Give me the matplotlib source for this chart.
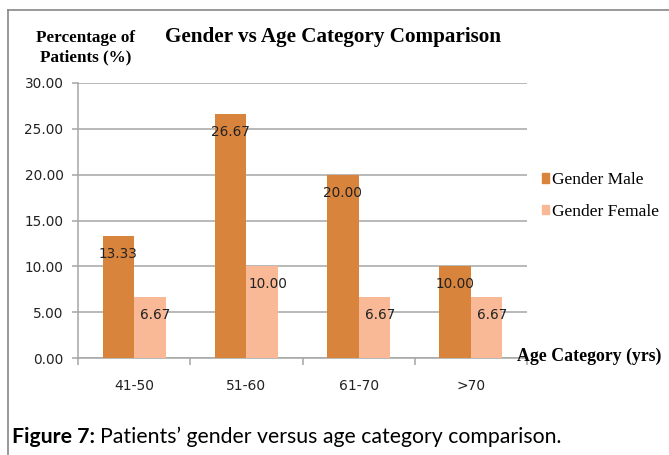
import matplotlib.pyplot as plt
import numpy as np
from matplotlib.lines import Line2D

categories = ['41-50', '51-60', '61-70', '>70']
male_pct = [13.33, 26.67, 20.00, 10.00]
female_pct = [6.67, 10.00, 6.67, 6.67]
y_ticks = [0, 5, 10, 15, 20, 25, 30]

male_color = '#D9843C'
female_color = '#F9B996'
grid_color = '#A6A6A6'
serif = 'Liberation Serif'
sans = 'DejaVu Sans'
cap_font = 'Lato'

fig = plt.figure(figsize=(6.69, 4.55), dpi=100)
ax = fig.add_axes([78 / 669, 97 / 455, 449 / 669, 275 / 455])

x = np.arange(len(categories))
bw = 0.28
bars_m = ax.bar(x - bw / 2, male_pct, bw, color=male_color, label='Gender Male', zorder=3)
bars_f = ax.bar(x + bw / 2, female_pct, bw, color=female_color, label='Gender Female', zorder=3)

# value labels a bit below the top of each bar
for bars, dx in ((bars_m, 0.0), (bars_f, 0.05)):
    for b in bars:
        h = b.get_height()
        ax.annotate(f'{h:.2f}', (b.get_x() + b.get_width() / 2 + dx, h),
                    xytext=(0, -18), textcoords='offset pixels',
                    ha='center', va='center', fontsize=9.8, family=sans, color='#222222', zorder=4)

ax.set_xlim(-0.5, len(categories) - 0.5)
ax.set_ylim(0, 30)
ax.set_yticks(y_ticks)
ax.set_yticklabels([f'{v:.2f}' for v in y_ticks], family=sans, fontsize=9.8, color='#222222')
ax.yaxis.grid(True, color=grid_color, linewidth=1.1, zorder=0)
ax.set_axisbelow(True)

ax.set_xticks(x)
ax.set_xticklabels(categories, family=sans, fontsize=10, color='#222222')
ax.tick_params(axis='x', length=0, pad=15)
ax.set_xticks(np.arange(len(categories) + 1) - 0.5, minor=True)
ax.tick_params(axis='x', which='minor', length=5, color=grid_color, width=1.1)
ax.tick_params(axis='y', length=4.5, color=grid_color, width=1.1, pad=6)

for s in ['top', 'right']:
    ax.spines[s].set_visible(False)
for s in ['left', 'bottom']:
    ax.spines[s].set_color(grid_color)
    ax.spines[s].set_linewidth(1.1)

fig.text(165 / 669, 1 - 37 / 455, 'Gender vs Age Category Comparison', family=serif,
         fontweight='bold', fontsize=15.2, ha='left', va='center')
fig.text(86 / 669, 1 - 48 / 455, 'Percentage of\nPatients (%)', family=serif,
         fontweight='bold', fontsize=12.3, ha='center', va='center', linespacing=1.3)
fig.text(517 / 669, 1 - 356 / 455, 'Age Category (yrs)', family=serif,
         fontweight='bold', fontsize=12.8, ha='left', va='center')

handles = [plt.Rectangle((0, 0), 1, 1, color=male_color),
           plt.Rectangle((0, 0), 1, 1, color=female_color)]
fig.legend(handles, ['Gender Male', 'Gender Female'], loc='center left',
           bbox_to_anchor=(526 / 669, 1 - 196 / 455), frameon=False,
           prop={'family': serif, 'size': 12.5}, handlelength=0.45, handleheight=0.45,
           handletextpad=0.15, labelspacing=0.9)

# outer frame
fig.add_artist(Line2D([8 / 669, 8 / 669], [0, 1 - 10 / 455], transform=fig.transFigure,
                      color='#888888', linewidth=1.2))
fig.add_artist(Line2D([8 / 669, 1], [1 - 10 / 455, 1 - 10 / 455], transform=fig.transFigure,
                      color='#888888', linewidth=1.2))

# caption with bold lead
cap_y = 1 - 437 / 455
t1 = fig.text(12 / 669, cap_y, 'Figure 7:', family=cap_font, fontweight='bold', fontsize=15.3,
              ha='left', va='center')
fig.canvas.draw()
bb = t1.get_window_extent()
fig.text(bb.x1 / fig.bbox.width + 5 / 669, cap_y, 'Patients\u2019 gender versus age category comparison.',
         family=cap_font, fontsize=15.3, ha='left', va='center')

fig.savefig('out.png', dpi=100, facecolor='white')
